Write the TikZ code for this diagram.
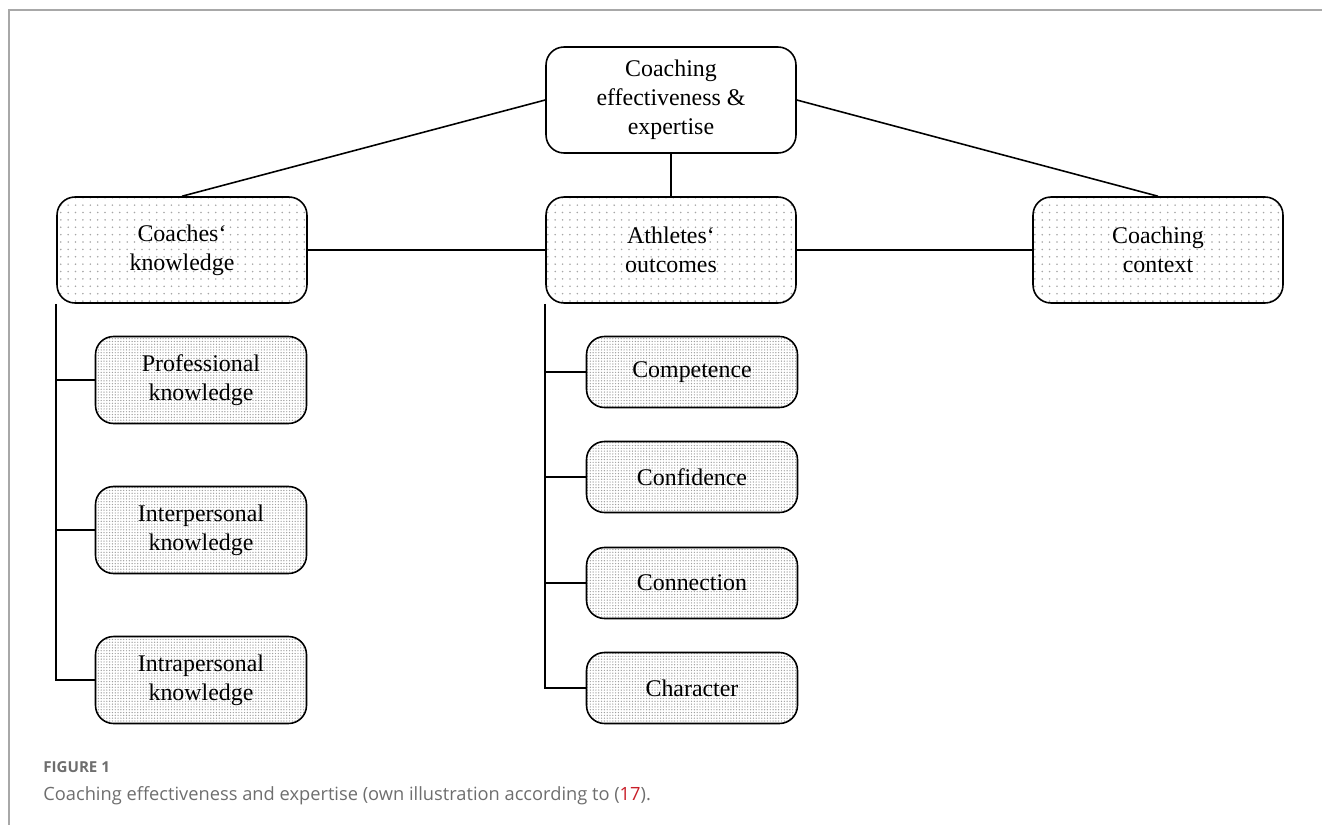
\documentclass[tikz,border=0pt]{standalone}
\usepackage{fontspec}
\setmainfont{Liberation Serif}
\newfontfamily\capfont{Open Sans}
\definecolor{FigGray}{RGB}{110, 110, 110}
\definecolor{RefRed}{RGB}{200, 30, 40}
\usetikzlibrary{patterns.meta}

\begin{document}
\begin{tikzpicture}[
        x=0.02cm, y=-0.02cm,
        box/.style={rectangle, draw, line width=0.9pt, rounded corners=0.36cm, align=center, font=\fontsize{13.6}{16.4}\selectfont},
        mainbox/.style={box, minimum width=5cm, minimum height=2.12cm},
        topbox/.style={mainbox, fill=white},
        catbox/.style={mainbox, pattern={Dots[radius=0.5pt, distance=4.2pt, xshift=1pt]}, pattern color=gray!70},
        subbox/.style={box, minimum width=4.22cm, pattern={Dots[radius=0.4pt, distance=1.6pt]}, pattern color=gray!75},
        link/.style={line width=0.9pt}
    ]
        \useasboundingbox (0,0) rectangle (1322,825);
        % frame of the figure
        \draw[FigGray!60, line width=0.6pt] (1322,10) -- (9,10) -- (9,825);

        % Top
        \node[topbox] (top) at (671, 100) {Coaching\\effectiveness \&\\expertise};

        % First level
        \node[catbox] (coach) at (182, 250) {Coaches‘\\knowledge};
        \node[catbox] (athl) at (671, 250) {Athletes‘\\outcomes};
        \node[catbox] (ctx) at (1158, 250) {Coaching\\context};

        % Knowledge of coaches
        \node[subbox, minimum height=1.74cm] (prof) at (201, 380) {Professional\\knowledge};
        \node[subbox, minimum height=1.74cm] (inter) at (201, 530) {Interpersonal\\knowledge};
        \node[subbox, minimum height=1.74cm] (intra) at (201, 680) {Intrapersonal\\knowledge};

        % Outcomes of athletes
        \node[subbox, minimum height=1.42cm] (comp) at (692, 372) {Competence};
        \node[subbox, minimum height=1.42cm] (conf) at (692, 477) {Confidence};
        \node[subbox, minimum height=1.42cm] (conn) at (692, 583) {Connection};
        \node[subbox, minimum height=1.42cm] (char) at (692, 688) {Character};

        % Connections from top
        \draw[link] (top.west) -- (coach.north);
        \draw[link] (top.south) -- (athl.north);
        \draw[link] (top.east) -- (ctx.north);
        \draw[link] (coach.east) -- (athl.west);
        \draw[link] (athl.east) -- (ctx.west);

        % Trunks
        \draw[link] (coach.south west) |- (intra.west);
        \foreach \k in {prof, inter} {
            \draw[link] (coach.south west |- \k.west) -- (\k.west);
        }
        \draw[link] (athl.south west) |- (char.west);
        \foreach \o in {comp, conf, conn} {
            \draw[link] (athl.south west |- \o.west) -- (\o.west);
        }

        % Caption
        \node[anchor=base west, inner sep=0pt, font=\capfont\fontsize{8.6}{10}\selectfont\bfseries, text=FigGray] (fig) at (43, 772) {FIGURE 1};
        \node[anchor=base west, inner sep=0pt, font=\capfont\fontsize{10.4}{12}\selectfont, text=FigGray] (cap) at (43, 800) {Coaching effectiveness and expertise (own illustration according to (\textcolor{RefRed}{17}).};
    \end{tikzpicture}
\end{document}
